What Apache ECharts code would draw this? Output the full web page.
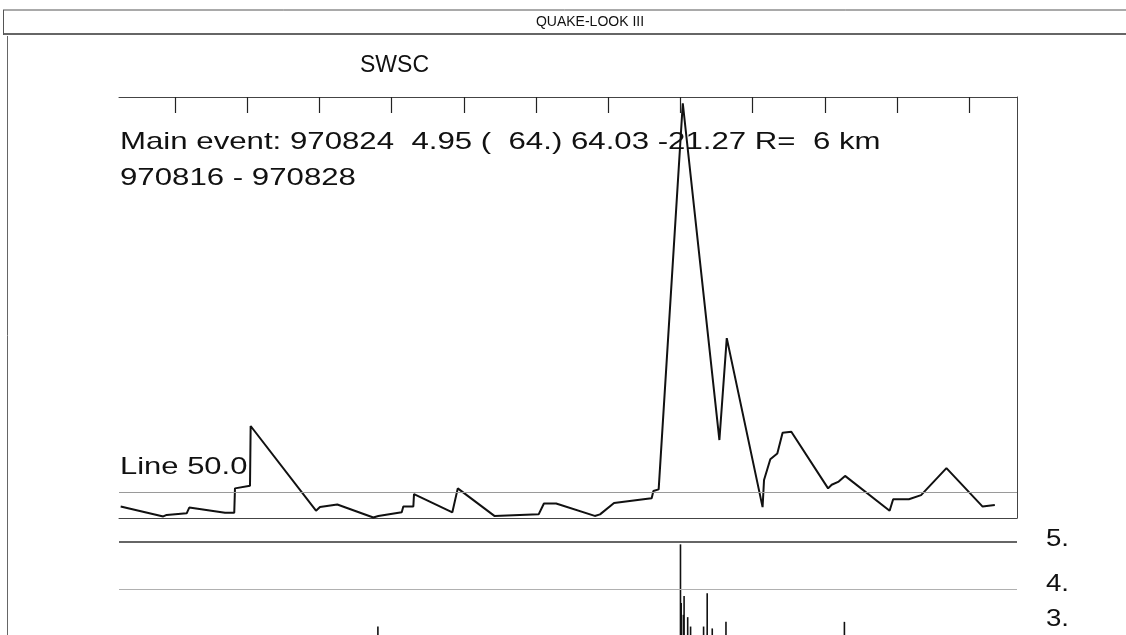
<!DOCTYPE html>
<html>
<head>
<meta charset="utf-8">
<title>QUAKE-LOOK III</title>
<script src="https://cdn.jsdelivr.net/npm/echarts@6.0.0/dist/echarts.min.js"></script>
<style>
  html, body { margin: 0; padding: 0; background: #ffffff; }
  #chart { width: 1126px; height: 635px; }
</style>
</head>
<body>
<div id="chart"></div>
<script>
// Activity curve: time in days of August 1997 (24.0 = 970824 00:00) and level
const activityDays = [
  16.248, 16.838, 16.885, 17.162, 17.198, 17.693, 17.821, 17.831, 18.039, 18.048,
  18.953, 19.008, 19.248, 19.747, 19.816, 20.140, 20.162, 20.301, 20.310, 20.841,
  20.916, 21.423, 22.036, 22.109, 22.278, 22.813, 22.886, 23.080, 23.543, 23.601,
  23.625, 23.698, 24.032, 24.539, 24.641, 25.137, 25.157, 25.244, 25.341, 25.414,
  25.535, 26.044, 26.094, 26.191, 26.279, 26.896, 26.945, 27.163, 27.332, 27.683,
  28.184, 28.353
];
const activityValues = [
  22, 3, 6, 9, 20, 10, 10, 57, 62, 177,
  14, 21, 26, 1, 4, 11, 22, 22, 46, 11,
  57, 4, 7, 28, 28, 4, 7, 29, 37, 38,
  52, 55, 798, 150, 346, 21, 73, 113, 124, 164,
  166, 57, 64, 70, 81, 14, 36, 36, 44, 96,
  22, 25
];

// Individual events: origin time (days of August) and magnitude
const quakeDays = [19.81, 24.00, 24.01, 24.04, 24.05, 24.10, 24.14, 24.32, 24.37, 24.44, 24.63, 26.27];
const quakeMags = [3.20, 4.95, 3.70, 3.45, 3.85, 3.40, 3.20, 3.20, 3.91, 3.16, 3.30, 3.30];

// Day ticks along the top of the activity panel
const dayTicks = [17, 18, 19, 20, 21, 22, 23, 24, 25, 26, 27, 28];
const thresholdValue = 50.0;
const magLevels = [5, 4];
const magTickLabels = ['5.', '4.', '3.'];

const headerTitle = 'QUAKE-LOOK III';
const stationName = 'SWSC';
const mainEventText = 'Main event: 970824  4.95 (  64.) 64.03 -21.27 R=  6 km';
const periodText = '970816 - 970828';
const thresholdText = 'Line ' + thresholdValue.toFixed(1);

// ---- layout ----
const X_MIN = 16.225, X_MAX = 28.66;
const PLOT = { left: 119, top: 97, width: 898, height: 421 };
// magnitude strip: 47 px per magnitude unit, runs off the bottom edge
const MAGP = { left: 119, top: 542, width: 898, bottom: 0 };
const MAG_MIN = 3.02, MAG_MAX = 5;
const LABEL_FONT = 'Liberation Sans, Arial, Helvetica, sans-serif';
const STRETCH = 1.3;

const activityData = activityDays.map((d, i) => [d, activityValues[i]]);
const quakeData = quakeDays.map((d, i) => [d, quakeMags[i]]);

function hLine(x1, x2, y, color, w) {
  return { type: 'line', silent: true, shape: { x1: x1, y1: y, x2: x2, y2: y },
           style: { stroke: color, lineWidth: w } };
}
function vLine(x, y1, y2, color, w) {
  return { type: 'line', silent: true, shape: { x1: x, y1: y1, x2: x, y2: y2 },
           style: { stroke: color, lineWidth: w } };
}
function label(text, x, y, size, scaleX, align) {
  return {
    type: 'text', silent: true, x: x, y: y, scaleX: scaleX || 1,
    style: {
      text: text, fill: '#111', font: size + 'px ' + LABEL_FONT,
      textAlign: align || 'left', align: align || 'left',
      textVerticalAlign: 'middle', verticalAlign: 'middle'
    }
  };
}

const magLabelY = [539, 584, 619];

const chart = echarts.init(document.getElementById('chart'), null, { renderer: 'canvas' });
chart.setOption({
  animation: false,
  backgroundColor: '#ffffff',
  grid: [
    Object.assign({ containLabel: false }, PLOT),
    Object.assign({ containLabel: false }, MAGP)
  ],
  xAxis: [
    {
      gridIndex: 0, type: 'value', position: 'top', min: X_MIN, max: X_MAX,
      axisLine: { show: true, onZero: false, lineStyle: { color: '#444', width: 1 } },
      axisTick: { show: true, inside: true, length: 16, customValues: dayTicks,
                  lineStyle: { color: '#222', width: 1.2 } },
      axisLabel: { show: false }, splitLine: { show: false }
    },
    {
      gridIndex: 0, type: 'value', position: 'bottom', min: X_MIN, max: X_MAX,
      axisLine: { show: true, onZero: false, lineStyle: { color: '#444', width: 1 } },
      axisTick: { show: false }, axisLabel: { show: false }, splitLine: { show: false }
    },
    {
      gridIndex: 1, type: 'value', min: X_MIN, max: X_MAX, show: false
    }
  ],
  yAxis: [
    {
      gridIndex: 0, type: 'value', position: 'right', min: 0, max: 810,
      axisLine: { show: true, onZero: false, lineStyle: { color: '#444', width: 1 } },
      axisTick: { show: false }, axisLabel: { show: false }, splitLine: { show: false }
    },
    {
      gridIndex: 1, type: 'value', min: MAG_MIN, max: MAG_MAX, show: false
    }
  ],
  series: [
    {
      type: 'line', xAxisIndex: 0, yAxisIndex: 0, data: activityData,
      showSymbol: false, symbol: 'none', clip: true,
      lineStyle: { color: '#111', width: 2 },
      markLine: {
        silent: true, symbol: 'none', label: { show: false },
        lineStyle: { color: '#9a9a9a', width: 1, type: 'solid' },
        data: [{ yAxis: thresholdValue }]
      }
    },
    {
      type: 'bar', xAxisIndex: 2, yAxisIndex: 1, data: quakeData,
      barWidth: 1.6, itemStyle: { color: '#111' },
      markLine: {
        silent: true, symbol: 'none', label: { show: false },
        data: [
          { yAxis: magLevels[0], lineStyle: { color: '#333', width: 1.5, type: 'solid' } },
          { yAxis: magLevels[1], lineStyle: { color: '#b0b0b0', width: 1, type: 'solid' } }
        ]
      }
    }
  ],
  graphic: [
    // page frame and header band
    hLine(3, 1126, 10, '#555', 1),
    hLine(3, 1126, 34, '#333', 1.5),
    vLine(3.5, 10, 35, '#555', 1),
    vLine(7.5, 36, 635, '#666', 1),
    label(headerTitle, 590, 22, 14, 1, 'center'),
    label(stationName, 360, 66, 23, 1, 'left'),
    label(mainEventText, 120, 142, 24, STRETCH, 'left'),
    label(periodText, 120, 178, 24, STRETCH, 'left'),
    label(thresholdText, 120, 467, 24, 1.29, 'left'),
    label(magTickLabels[0], 1046, magLabelY[0], 24, 1.15, 'left'),
    label(magTickLabels[1], 1046, magLabelY[1], 24, 1.15, 'left'),
    label(magTickLabels[2], 1046, magLabelY[2], 24, 1.15, 'left')
  ]
});
</script>
</body>
</html>
